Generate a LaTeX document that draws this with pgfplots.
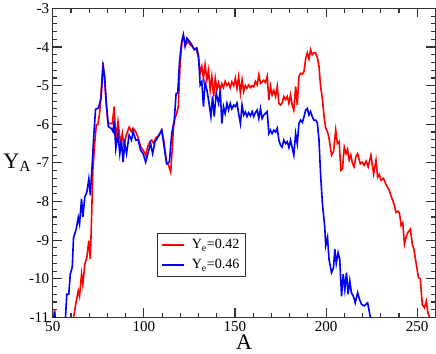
\documentclass[border=0pt]{standalone}
\usepackage{fontspec}
\setmainfont{Liberation Serif}
\usepackage{pgfplots}
\pgfplotsset{compat=1.18}

\begin{document}
\begin{tikzpicture}
\begin{axis}[
    scale only axis,
    width=380.7pt,
    height=307.5pt,
    xmin=50, xmax=260,
    ymin=-11, ymax=-3,
    xtick={50,100,150,200,250},
    ytick={-11,-10,-9,-8,-7,-6,-5,-4,-3},
    minor x tick num=4,
    minor y tick num=4,
    major tick length=9pt,
    minor tick length=4.5pt,
    tick align=inside,
    tick style={line width=1.1pt, black!80},
    axis line style={line width=1.2pt, black!80},
    /pgf/number format/assume math mode=true,
    tick label style={font=\fontsize{15}{15}\selectfont},
    label style={font=\fontsize{22}{22}\selectfont},
    xlabel={A},
    ylabel={Y\textsubscript{A}},
    ylabel style={rotate=-90, at={(axis description cs:-0.093,0.5)}, anchor=center},
    xlabel style={yshift=3pt},
    legend style={at={(0.272,0.272)}, anchor=north west,
        font=\fontsize{14}{16}\selectfont, draw=black!80,
        inner xsep=4pt, inner ysep=4pt, row sep=5pt},
    legend cell align=left,
    legend image code/.code={\draw[#1, line width=1.6pt] (0pt,0pt) -- (22pt,0pt); \path (27pt,0pt);},
    clip=true,
]
\addplot[red, line width=1.6pt] coordinates {
(50,-11.4) (51,-10.8) (52,-11.4) (55,-12.5) (59,-12) (60.5,-11.3) (61.4,-11.0)
(62.9,-10.58) (64,-10.31) (64.7,-10.45) (65.8,-9.88) (66.5,-10.14) (67.6,-9.62)
(68.7,-9.45) (69.8,-9.01) (70.6,-9.49) (71.2,-8.6) (72,-7.19) (73,-6.5) (73.9,-6.02)
(74.8,-6.0) (75.7,-5.72) (76.5,-5.2) (77.6,-4.4) (78.5,-4.9) (79.4,-5.5) (80.3,-5.95)
(80.9,-5.98) (82.7,-5.98) (83.7,-5.54) (84.6,-6.41) (85.8,-5.93) (87.2,-6.5)
(88.2,-6.24) (89.2,-6.6) (90.2,-6.3) (91.9,-6.07) (93.2,-6.19) (94.1,-6.1)
(95.6,-6.2) (96.9,-6.35) (98.2,-6.58) (99.6,-6.67) (101,-6.8) (102.1,-6.58)
(103.3,-6.45) (104.3,-6.41) (105.5,-6.5) (106.5,-6.35) (108,-6.3) (109.8,-6.15)
(111,-6.45) (112.5,-7.0) (113.5,-7.05) (114.7,-7.24) (115.5,-6.7) (116.2,-6.1)
(117,-5.85) (118,-5.72) (118.9,-5.54) (119.9,-4.42) (120.8,-3.9) (121.7,-3.72)
(122.5,-3.85) (123.1,-3.94) (124.2,-3.85) (125.4,-3.94) (126.5,-3.98) (127.6,-4.05)
(128.7,-4.03) (130,-4.28) (130.9,-4.68) (131.8,-4.5) (132.7,-4.81) (133.6,-4.46)
(134.6,-4.85) (135.5,-4.6) (136.4,-5.11) (137.3,-4.76) (138.3,-5.28) (139.2,-4.81)
(140.1,-5.11) (141,-4.93) (141.9,-5.11) (142.8,-4.95) (143.7,-5.05) (144.6,-4.89)
(145.6,-5.0) (146.5,-4.93) (147.4,-5.05) (148.3,-4.9) (149.3,-5.0) (150.2,-4.81)
(151.1,-5.07) (152,-4.77) (153,-5.2) (153.9,-4.85) (154.8,-5.15) (155.7,-5.0)
(156.6,-5.07) (157.5,-4.98) (158.5,-5.05) (159.4,-5.0) (160.3,-5.03) (161.2,-4.89)
(162.2,-4.98) (163.1,-4.72) (164,-4.94) (164.9,-4.9) (165.8,-4.86) (166.7,-4.92)
(167.7,-4.76) (168.6,-5.37) (169.5,-5.02) (170.4,-5.24) (171.3,-5.12) (172.3,-5.28)
(173.2,-5.02) (174.1,-5.46) (175,-5.5) (175.9,-5.45) (176.8,-5.28) (177.8,-5.36)
(178.7,-5.28) (179.6,-5.46) (180.5,-5.24) (181.4,-5.5) (182.3,-5.63) (183.3,-5.02)
(184.2,-5.5) (185.1,-4.76) (186,-4.68) (187,-4.7) (187.9,-4.63) (188.8,-4.3)
(189.7,-4.15) (190.6,-4.31) (191.5,-4.07) (192.4,-4.2) (193.3,-4.15) (194.2,-4.15)
(195.2,-4.27) (196.1,-4.5) (197,-5.02) (198,-5.35) (198.9,-5.8) (199.8,-6.1)
(200.8,-6.2) (201.6,-6.35) (203,-6.8) (204.1,-6.7) (205.3,-6.15) (206.2,-6.5)
(207.2,-6.45) (208.1,-7.19) (209,-7.15) (210,-6.59) (211,-6.76) (211.8,-6.65)
(212.7,-6.93) (213.6,-6.8) (214.5,-7.02) (215.4,-7.1) (216.3,-6.85) (217.3,-6.76)
(218.8,-7.02) (219.8,-6.98) (220.9,-7.06) (222,-6.95) (223.1,-7.1) (224.6,-6.8)
(226.1,-7.28) (227.4,-6.93) (228.3,-7.37) (229.2,-7.3) (230.2,-7.45) (231.5,-7.4)
(232.9,-7.56) (234.7,-7.71) (235.6,-7.85) (236.6,-7.97) (237.5,-8.1) (238.4,-8.28)
(239.4,-8.25) (240.3,-8.3) (241.2,-8.62) (242.1,-8.55) (243,-9.1) (244,-8.9)
(244.9,-8.8) (246.3,-8.71) (247.3,-9.1) (248.2,-9.23) (249.5,-9.62) (250.7,-9.97)
(251.7,-10.0) (252.8,-10.66) (254,-10.75) (255,-10.58) (255.9,-10.88) (256.8,-11.0)
(258,-11.4)
};
\addlegendentry{Y\textsubscript{e}=0.42}
\addplot[blue, line width=1.6pt] coordinates {
(50,-11.3) (51,-10.85) (52,-11.4) (55,-12.0) (57,-11.0) (57.7,-10.4) (58.8,-10.4)
(59.6,-9.88) (60.7,-9.7) (61.4,-8.93) (62.9,-8.71) (64,-8.41) (64.7,-8.58)
(65.8,-7.93) (66.5,-8.4) (67.6,-7.88) (68.7,-7.76) (69.8,-7.41) (70.6,-7.84)
(71.7,-7.0) (72.5,-6.3) (73.5,-5.61) (75,-5.58) (76.5,-5.33) (77.6,-4.5) (78.5,-4.76)
(79.4,-5.46) (80.5,-6.06) (82.2,-6.11) (83.1,-6.19) (83.7,-5.9) (84.6,-6.63)
(85.8,-6.24) (86.8,-6.76) (87.7,-6.41) (88.6,-6.98) (89.5,-6.5) (90.5,-6.76)
(91.9,-6.28) (93.2,-6.41) (94.1,-6.19) (95.6,-6.41) (96.9,-6.4) (98.2,-6.67)
(99.6,-6.76) (101,-6.98) (102.4,-6.72) (103.7,-6.5) (104.8,-6.76) (106.1,-6.45)
(107.9,-6.32) (109.8,-6.15) (111,-6.54) (112.5,-7.02) (114,-6.98) (115.3,-6.24)
(116.7,-5.89) (117.7,-5.2) (118.6,-5.2) (119.5,-4.42) (120.8,-3.85) (121.7,-3.68)
(122.6,-3.98) (123.6,-3.77) (125,-3.85) (126.3,-3.94) (127.6,-4.07) (129.1,-4.03)
(130,-4.24) (130.9,-4.98) (131.8,-4.9) (132.7,-5.54) (133.6,-4.93) (134.6,-5.11)
(135.5,-5.37) (136.8,-5.8) (137.7,-5.28) (138.6,-5.8) (139.7,-5.2) (141,-5.46)
(141.9,-5.11) (142.8,-5.98) (143.7,-5.54) (144.6,-5.72) (145.6,-5.46) (146.5,-5.63)
(147.4,-5.46) (148.3,-5.6) (149.3,-5.5) (150.2,-5.54) (151.1,-5.45) (152,-5.72)
(153,-5.98) (153.9,-5.5) (154.8,-5.76) (155.7,-5.68) (156.6,-5.8) (157.5,-5.7)
(158.5,-5.78) (159.4,-5.67) (160.3,-5.8) (161.2,-5.7) (162.2,-5.63) (163.1,-5.85)
(164,-5.59) (164.9,-5.85) (165.8,-5.76) (166.7,-5.72) (167.7,-5.67) (168.6,-6.24)
(169.5,-6.15) (170.4,-6.24) (171.3,-6.15) (172.3,-6.2) (173.2,-6.1) (174.1,-6.41)
(175,-6.54) (175.9,-6.59) (176.8,-6.41) (177.8,-6.5) (178.7,-6.45) (179.6,-6.6)
(180.5,-6.41) (181.4,-6.6) (182.3,-6.8) (183.3,-6.24) (184.2,-6.5) (185.1,-5.98)
(186,-5.89) (187,-5.95) (187.9,-5.8) (188.8,-5.63) (189.7,-5.59) (190.6,-5.76)
(191.5,-5.67) (192.4,-5.8) (193.3,-5.89) (194.3,-5.89) (195.2,-5.96) (196.1,-6.4)
(197,-7.3) (198,-8.06) (199.3,-8.67) (199.8,-9.14) (200.8,-8.93) (201.6,-9.49)
(203,-9.84) (204.1,-9.71) (204.8,-9.23) (205.6,-9.6) (206.6,-9.32) (207.5,-9.5)
(208.5,-10.45) (209.4,-9.88) (210.3,-10.28) (211.2,-9.84) (212.1,-10.4) (213,-10.05)
(213.9,-10.36) (215,-10.45) (216,-10.62) (217.3,-10.36) (218.4,-10.54) (219.5,-10.66)
(221,-10.7) (222.8,-10.62) (223.7,-10.84) (224.3,-11.0) (225,-11.3)
};
\addlegendentry{Y\textsubscript{e}=0.46}
\end{axis}
\end{tikzpicture}
\end{document}
